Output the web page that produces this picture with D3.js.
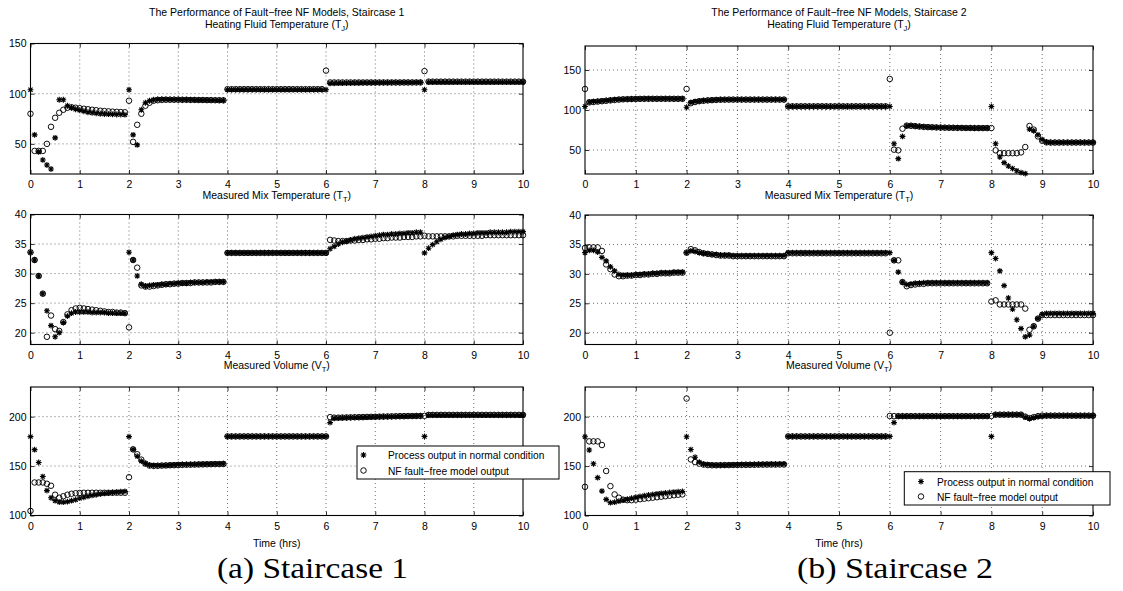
<!DOCTYPE html>
<html><head><meta charset="utf-8">
<script src="https://cdn.jsdelivr.net/npm/d3@7"></script>
<style>
body{margin:0;background:#fff}
svg{display:block}
text{fill:#000}
</style>
</head><body>
<svg id="chart" width="1123" height="591" font-family="Liberation Sans, Arial, Helvetica, sans-serif"></svg>
<script>
// ---------------- DATA ----------------
const sampleStepHrs = 1/12;          // 5-minute samples, 0..10 hrs
const sampleCount = 121;
const xTickValues = [0,1,2,3,4,5,6,7,8,9,10];
const seriesNames = ["Process output in normal condition", "NF fault\u2212free model output"];

// Staircase 1 – Heating fluid temperature (T_J)
const s1TjProcess = [
 104,59,42,34,29,25,56,94,94,88,86,84.5,83.5,82.5,81.5,81,80.5,80,79.8,79.6,79.4,79.3,79.2,79.1,
 104,59,49,84,91,93,94,94.5,94.5,94.4,94.3,94.2,94.1,94,94,93.9,93.8,93.8,93.7,93.7,93.6,93.6,93.5,93.5,
 104,104,104,104,104,104,104,104,104,104,104,104,104,104,104,104,104,104,104,104,104,104,104,104,
 104,110.3,110.4,110.5,110.5,110.6,110.6,110.7,110.7,110.8,110.8,110.9,110.9,111,111,111,111.1,111.1,111.1,111.2,111.2,111.2,111.3,111.3,
 104,111.5,111.5,111.5,111.5,111.5,111.5,111.5,111.5,111.5,111.5,111.5,111.5,111.5,111.5,111.5,111.5,111.5,111.5,111.5,111.5,111.5,111.5,111.5,111.5];
const s1TjModel = [
 80,43,43,43,50,67,76,81,84,86,86.5,86,85.5,85,84.5,84,83.5,83,82.7,82.4,82.1,81.9,81.7,81.5,
 93,52,69,80,88,91,93,93.5,93.8,94,94,94,94,93.9,93.9,93.8,93.8,93.7,93.7,93.6,93.6,93.5,93.5,93.4,
 104.5,104.5,104.5,104.5,104.5,104.5,104.5,104.5,104.5,104.5,104.5,104.5,104.5,104.5,104.5,104.5,104.5,104.5,104.5,104.5,104.5,104.5,104.5,104.5,
 123,111.2,111.2,111.2,111.2,111.2,111.2,111.2,111.2,111.2,111.2,111.2,111.2,111.2,111.2,111.2,111.2,111.2,111.2,111.2,111.2,111.2,111.2,111.2,
 122.5,112,112,112,112,112,112,112,112,112,112,112,112,112,112,112,112,112,112,112,112,112,112,112,112];

// Staircase 1 – Mix temperature (T_T)
const s1TtProcess = [
 33.6,32.3,29.6,26.6,23.7,21.2,19.3,20.0,21.7,22.8,23.3,23.5,23.5,23.5,23.5,23.4,23.4,23.4,23.4,23.3,23.3,23.3,23.3,23.3,
 33.6,32.3,29.6,28.2,27.9,28.0,28.1,28.1,28.2,28.2,28.3,28.3,28.4,28.4,28.4,28.5,28.5,28.5,28.5,28.6,28.6,28.6,28.6,28.6,
 33.5,33.5,33.5,33.5,33.5,33.5,33.5,33.5,33.5,33.5,33.5,33.5,33.5,33.5,33.5,33.5,33.5,33.5,33.5,33.5,33.5,33.5,33.5,33.5,
 33.5,34.2,34.6,35.0,35.3,35.5,35.7,35.9,36.0,36.1,36.2,36.3,36.4,36.5,36.6,36.6,36.7,36.7,36.8,36.8,36.9,36.9,37.0,37.0,
 33.5,34.3,34.9,35.4,35.8,36.1,36.3,36.5,36.6,36.7,36.7,36.8,36.8,36.9,36.9,36.9,37.0,37.0,37.0,37.0,37.0,37.1,37.1,37.1,37.1];
const s1TtModel = [
 33.6,32.3,29.6,26.6,19.3,22.9,20.6,20.3,21.8,23.1,23.8,24.1,24.2,24.1,24.0,23.9,23.8,23.7,23.6,23.5,23.5,23.4,23.4,23.3,
 20.9,32.3,31.0,28.0,27.8,27.8,27.9,28.0,28.1,28.2,28.2,28.3,28.3,28.4,28.4,28.4,28.5,28.5,28.5,28.5,28.5,28.6,28.6,28.6,
 33.5,33.5,33.5,33.5,33.5,33.5,33.5,33.5,33.5,33.5,33.5,33.5,33.5,33.5,33.5,33.5,33.5,33.5,33.5,33.5,33.5,33.5,33.5,33.5,
 33.5,35.7,35.6,35.5,35.5,35.5,35.6,35.6,35.7,35.7,35.8,35.8,35.9,35.9,36.0,36.0,36.1,36.1,36.1,36.2,36.2,36.2,36.3,36.3,
 36.4,36.3,36.3,36.3,36.3,36.3,36.3,36.3,36.4,36.4,36.4,36.4,36.4,36.4,36.4,36.5,36.5,36.5,36.5,36.5,36.5,36.5,36.5,36.5,36.5];

// Staircase 1 – Volume (V_T)
const s1VtProcess = [
 179.8,166.6,153.6,139.4,125.2,117.9,115,113.6,113.5,114,115,116,117.5,118.5,119.5,120.3,121,121.7,122.3,122.8,123.3,123.7,124.1,124.4,
 179.8,166.9,160,155,152.5,151,150.5,150.5,150.7,150.9,151.1,151.3,151.5,151.6,151.7,151.8,151.9,152,152.1,152.2,152.2,152.3,152.3,152.4,
 180,180,180,180,180,180,180,180,180,180,180,180,180,180,180,180,180,180,180,180,180,180,180,180,
 180,194,198.3,198.5,198.7,198.9,199.1,199.2,199.3,199.4,199.5,199.6,199.7,199.8,199.9,200,200.1,200.2,200.3,200.4,200.5,200.6,200.7,200.8,
 180,201.5,201.5,201.5,201.5,201.5,201.5,201.5,201.5,201.5,201.5,201.5,201.5,201.5,201.5,201.5,201.5,201.5,201.5,201.5,201.5,201.5,201.5,201.5,201.5];
const s1VtModel = [
 104.6,133.4,133.4,133.4,132.1,130.1,121,118,119.5,121,122,122.5,122.8,123,123,123,123,123,123,123,123,123,123,123,
 138.7,166.9,162,156.5,152.5,150.5,150.2,150.3,150.5,150.6,150.8,150.9,151,151.2,151.3,151.4,151.5,151.6,151.7,151.8,151.9,152,152,152.1,
 180,180,180,180,180,180,180,180,180,180,180,180,180,180,180,180,180,180,180,180,180,180,180,180,
 180,199.5,199,199,199.1,199.2,199.3,199.4,199.5,199.6,199.7,199.8,199.9,200,200.1,200.2,200.3,200.4,200.5,200.5,200.6,200.6,200.7,200.7,
 200.8,201.8,201.8,201.8,201.8,201.8,201.8,201.8,201.8,201.8,201.8,201.8,201.8,201.8,201.8,201.8,201.8,201.8,201.8,201.8,201.8,201.8,201.8,201.8,201.8];

// Staircase 2 – Heating fluid temperature (T_J)
const s2TjProcess = [
 104.4,110,110.5,111,111.5,112,112.5,113,113.3,113.5,113.7,113.8,113.9,114,114,114,114,114,114,114,114,114,114,114,
 103.5,109.5,110.5,111.2,111.8,112.2,112.5,112.7,112.9,113,113,113,113,113,113,113,113,113,113,113,113,113,113,113,
 104.4,104.4,104.4,104.4,104.4,104.4,104.4,104.4,104.4,104.4,104.4,104.4,104.4,104.4,104.4,104.4,104.4,104.4,104.4,104.4,104.4,104.4,104.4,104.4,
 104.4,57.9,39.2,67,80,80.5,80,79.5,79,78.7,78.5,78.3,78.1,78,77.9,77.8,77.7,77.7,77.6,77.6,77.5,77.5,77.5,77.5,
 104.4,57.9,41.3,34.2,30,26.8,24,21.8,20.5,76,74,69,63,60,59.5,59.5,59.5,59.5,59.5,59.5,59.5,59.5,59.5,59.5,59.5];
const s2TjModel = [
 126.3,109.5,110,110.5,111,111.5,112,112.5,113,113.3,113.5,113.7,113.8,113.9,114,114,114,114,114,114,114,114,114,114,
 126.3,108.5,110,111,111.5,112,112.3,112.6,112.8,112.9,113,113,113,113,113,113,113,113,113,113,113,113,113,113,
 104.6,104.6,104.6,104.6,104.6,104.6,104.6,104.6,104.6,104.6,104.6,104.6,104.6,104.6,104.6,104.6,104.6,104.6,104.6,104.6,104.6,104.6,104.6,104.6,
 138.8,50.4,49.6,76.6,80.5,80.3,79.8,79.3,78.9,78.6,78.4,78.2,78,77.9,77.8,77.7,77.6,77.6,77.5,77.5,77.4,77.4,77.4,77.4,
 77.4,49.6,46,46,46,46,46,47,53.7,80,75.5,67,61.5,59.5,59.3,59.3,59.3,59.3,59.3,59.3,59.3,59.3,59.3,59.3,59.3];

// Staircase 2 – Mix temperature (T_T)
const s2TtProcess = [
 33.6,34,34,33.7,32.8,32.2,31.2,30.5,29.9,29.8,29.8,29.8,29.9,29.9,30,30,30.1,30.1,30.2,30.2,30.2,30.3,30.3,30.3,
 33.6,33.9,33.8,33.6,33.5,33.4,33.3,33.3,33.2,33.2,33.2,33.1,33.1,33.1,33.1,33.1,33.1,33.1,33.1,33.1,33.1,33.1,33.1,33.1,
 33.6,33.6,33.6,33.6,33.6,33.6,33.6,33.6,33.6,33.6,33.6,33.6,33.6,33.6,33.6,33.6,33.6,33.6,33.6,33.6,33.6,33.6,33.6,33.6,
 33.6,32.3,30.3,28.6,28.2,28.3,28.4,28.4,28.5,28.5,28.5,28.5,28.5,28.5,28.5,28.5,28.5,28.5,28.5,28.5,28.5,28.5,28.5,28.5,
 33.6,32.6,30.5,28,25.9,24,22.2,20.7,19.3,19.6,21.1,22.4,23.1,23.3,23.3,23.3,23.3,23.3,23.3,23.3,23.3,23.3,23.3,23.3,23.3];
const s2TtModel = [
 34.4,34.5,34.5,34.5,33.9,31.6,30.8,29.9,29.6,29.6,29.7,29.7,29.8,29.8,29.9,29.9,30,30,30.1,30.1,30.1,30.2,30.2,30.2,
 33.6,34.2,34,33.7,33.5,33.4,33.3,33.2,33.1,33.1,33.1,33,33,33,33,33,33,33,33,33,33,33,33,33,
 33.5,33.5,33.5,33.5,33.5,33.5,33.5,33.5,33.5,33.5,33.5,33.5,33.5,33.5,33.5,33.5,33.5,33.5,33.5,33.5,33.5,33.5,33.5,33.5,
 20,32.3,32.3,28.6,27.9,28.1,28.2,28.3,28.3,28.4,28.4,28.4,28.4,28.4,28.4,28.4,28.4,28.4,28.4,28.4,28.4,28.4,28.4,28.4,
 25.3,25.5,24.8,24.8,24.8,24.8,24.8,24.8,24.1,20.5,21.1,22.4,23,23,23,23,23,23,23,23,23,23,23,23,23];

// Staircase 2 – Volume (V_T)
const s2VtProcess = [
 179.7,166.3,152.3,138.3,124.7,116.3,113,113.5,114.5,115.5,116.5,117.5,118.5,119.3,120,120.7,121.3,121.9,122.4,122.9,123.3,123.7,124,124.3,
 179.7,166.7,159,154,152,151.5,151.2,151,151,151,151.2,151.3,151.4,151.5,151.6,151.7,151.8,151.9,152,152,152.1,152.1,152.2,152.2,
 180,180,180,180,180,180,180,180,180,180,180,180,180,180,180,180,180,180,180,180,180,180,180,180,
 180,194,200.5,200.5,200.5,200.5,200.5,200.5,200.5,200.5,200.5,200.5,200.5,200.5,200.5,200.5,200.5,200.5,200.5,200.5,200.5,200.5,200.5,200.5,
 180,202,202,202,202,202,202,202,199.5,198,199,200,200.5,201,201,201,201,201,201,201,201,201,201,201,201];
const s2VtModel = [
 129,175,175,175,171.3,145,129.7,121.3,118,116,115.5,115.5,116,116.5,117,117.5,118,118.5,119,119.5,120,120.5,121,121.3,
 218.3,156.7,154,152.5,151.5,151,150.8,150.8,150.9,151,151,151.1,151.1,151.2,151.2,151.3,151.3,151.4,151.4,151.5,151.5,151.5,151.6,151.6,
 180,180,180,180,180,180,180,180,180,180,180,180,180,180,180,180,180,180,180,180,180,180,180,180,
 200.7,200.5,200.5,200.5,200.5,200.5,200.5,200.5,200.5,200.5,200.5,200.5,200.5,200.5,200.5,200.5,200.5,200.5,200.5,200.5,200.5,200.5,200.5,200.5,
 200.7,202,202,202,202,202,202,202,200,198.5,199.5,200.5,201,201,201,201,201,201,201,201,201,201,201,201,201];

const tjTicksS1 = [50,100,150];
const tjTicksS2 = [50,100,150];
const ttTicks = [20,25,30,35,40];
const vtTicks = [100,150,200];

// ---------------- LAYOUT ----------------
const timeHrs = d3.range(sampleCount).map(k => k * sampleStepHrs);

const columns = [
  {x0:30.5, x1:523, title:"The Performance of Fault\u2212free NF Models, Staircase 1",
   caption:"(a) Staircase 1", capX:217, capW:191,
   legend:{x:357, y:446, w:202, h:33, mx:363.5, tx:388, y1:455, y2:470.5}},
  {x0:585, x1:1093, title:"The Performance of Fault\u2212free NF Models, Staircase 2",
   caption:"(b) Staircase 2", capX:797, capW:196,
   legend:{x:904.3, y:471.7, w:205.7, h:33.3, mx:921, tx:937, y1:481.5, y2:496.5}}
];

const panels = [
  {col:0, y0:43.5, y1:174,   dom:[20,150], ticks:tjTicksS1, p:s1TjProcess, m:s1TjModel},
  {col:0, y0:214.5, y1:344.5, dom:[18,40], ticks:ttTicks, p:s1TtProcess, m:s1TtModel},
  {col:0, y0:387, y1:515.5,  dom:[100,230], ticks:vtTicks, p:s1VtProcess, m:s1VtModel},
  {col:1, y0:46, y1:174,     dom:[20,180], ticks:tjTicksS2, p:s2TjProcess, m:s2TjModel},
  {col:1, y0:215, y1:344.5,  dom:[18,40], ticks:ttTicks, p:s2TtProcess, m:s2TtModel},
  {col:1, y0:387, y1:515.5,  dom:[100,230], ticks:vtTicks, p:s2VtProcess, m:s2VtModel}
];

const subTitles = [
  {y:28, main:"Heating Fluid Temperature (T", sub:"J"},
  {y:199, main:"Measured Mix Temperature (T", sub:"T"},
  {y:369, main:"Measured Volume (V", sub:"T"}
];

const svg = d3.select("#chart");
const FS = 10.5;

// asterisk symbol type
const asterisk = {
  draw(ctx, size){
    const r = Math.sqrt(size)/2, d = r*0.72;
    ctx.moveTo(-r,0); ctx.lineTo(r,0);
    ctx.moveTo(0,-r); ctx.lineTo(0,r);
    ctx.moveTo(-d,-d); ctx.lineTo(d,d);
    ctx.moveTo(-d,d); ctx.lineTo(d,-d);
  }
};
const starPath = d3.symbol().type(asterisk).size(34)();
const circlePath = d3.symbol().type(d3.symbolCircle).size(24)();

panels.forEach((pn, i) => {
  const c = columns[pn.col];
  const x = d3.scaleLinear().domain([0,10]).range([c.x0, c.x1]);
  const y = d3.scaleLinear().domain(pn.dom).range([pn.y1, pn.y0]);
  const g = svg.append("g");

  // grid
  const grid = g.append("g").attr("stroke","#333").attr("stroke-width",0.7).attr("stroke-dasharray","1,3");
  xTickValues.filter(v => v>0 && v<10).forEach(v => {
    grid.append("line").attr("x1",x(v)).attr("x2",x(v)).attr("y1",pn.y0).attr("y2",pn.y1);
  });
  pn.ticks.filter(v => v>pn.dom[0] && v<pn.dom[1]).forEach(v => {
    grid.append("line").attr("x1",c.x0).attr("x2",c.x1).attr("y1",y(v)).attr("y2",y(v));
  });

  // axes (ticks inward)
  const ax = (gen, tr, labels) => {
    const a = g.append("g").attr("transform", tr).call(gen);
    a.attr("font-family", null).attr("font-size", null);
    a.select(".domain").remove();
    a.selectAll("line").attr("stroke","#000").attr("stroke-width",0.8);
    a.selectAll("text").attr("font-size",FS).attr("fill","#000");
    if(!labels) a.selectAll("text").remove();
    return a;
  };
  ax(d3.axisBottom(x).tickValues(xTickValues).tickSize(-4).tickPadding(7).tickFormat(d3.format("d")), `translate(0,${pn.y1})`, true);
  ax(d3.axisTop(x).tickValues(xTickValues).tickSize(-4), `translate(0,${pn.y0})`, false);
  ax(d3.axisLeft(y).tickValues(pn.ticks).tickSize(-4).tickPadding(4).tickFormat(d3.format("d")), `translate(${c.x0},0)`, true);
  ax(d3.axisRight(y).tickValues(pn.ticks).tickSize(-4), `translate(${c.x1},0)`, false);

  // box
  g.append("rect").attr("x",c.x0).attr("y",pn.y0).attr("width",c.x1-c.x0).attr("height",pn.y1-pn.y0)
    .attr("fill","none").attr("stroke","#000").attr("stroke-width",1.1);

  // markers
  const marks = g.append("g");
  marks.selectAll("path.star").data(pn.p).join("path").attr("class","star")
    .attr("d", starPath).attr("transform",(d,k)=>`translate(${x(timeHrs[k])},${y(d)})`)
    .attr("fill","none").attr("stroke","#000").attr("stroke-width",1.1);
  marks.selectAll("path.circ").data(pn.m).join("path").attr("class","circ")
    .attr("d", circlePath).attr("transform",(d,k)=>`translate(${x(timeHrs[k])},${y(d)})`)
    .attr("fill","none").attr("stroke","#000").attr("stroke-width",0.95);
});

// titles, subtitles, labels, captions, legends
columns.forEach((c, ci) => {
  const cx = (c.x0 + c.x1)/2;
  svg.append("text").attr("x",cx).attr("y",15.5).attr("text-anchor","middle").attr("font-size",FS).text(c.title);
  subTitles.forEach(st => {
    const t = svg.append("text").attr("x",cx).attr("y",st.y).attr("text-anchor","middle").attr("font-size",FS);
    t.append("tspan").text(st.main);
    t.append("tspan").attr("font-size",7.5).attr("dy",3).text(st.sub);
    t.append("tspan").attr("dy",-3).text(")");
  });
  svg.append("text").attr("x",cx).attr("y",547).attr("text-anchor","middle").attr("font-size",FS).text("Time (hrs)");
  svg.append("text").attr("x",c.capX).attr("y",578).attr("font-size",29)
    .style("font-family","'Liberation Serif', 'DejaVu Serif', serif")
    .attr("textLength",c.capW).attr("lengthAdjust","spacingAndGlyphs").text(c.caption);

  const L = c.legend;
  const lg = svg.append("g");
  lg.append("rect").attr("x",L.x).attr("y",L.y).attr("width",L.w).attr("height",L.h)
    .attr("fill","#fff").attr("stroke","#000").attr("stroke-width",1);
  lg.append("path").attr("d",starPath).attr("transform",`translate(${L.mx},${L.y1})`)
    .attr("fill","none").attr("stroke","#000").attr("stroke-width",1.1);
  lg.append("path").attr("d",circlePath).attr("transform",`translate(${L.mx},${L.y2})`)
    .attr("fill","none").attr("stroke","#000").attr("stroke-width",0.95);
  lg.append("text").attr("x",L.tx).attr("y",L.y1+4).attr("font-size",10.2).text(seriesNames[0]);
  lg.append("text").attr("x",L.tx).attr("y",L.y2+4).attr("font-size",10.2).text(seriesNames[1]);
});
</script>
</body></html>
